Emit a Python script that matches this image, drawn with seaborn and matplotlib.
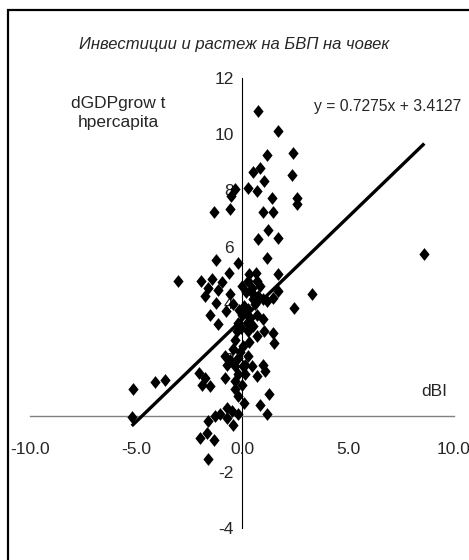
import numpy as np
import pandas as pd
from matplotlib import pyplot as plt
from matplotlib.path import Path
from matplotlib.patches import Rectangle
import seaborn as sns

# investment change (dBI) vs GDP per capita growth change
dbi = [0.77, 1.68, 1.19, 2.39, 0.85, 0.50, 1.05, 2.37, 0.30, 0.72, -0.33, -0.52,
       1.43, 2.58, 2.58, -1.31, -0.57, 1.01, 1.48, 1.24, 0.77, 1.68, 1.19, -1.23,
       -0.17, -0.60, 1.68, -3.03, -1.93, -1.43, -0.96, -1.59, -1.12, -1.75, -0.57,
       -1.23, -0.41,
       0.35, 0.66, 0.30, 0.69, 0.46, 0.85, 0.53, 0.77, 1.01, 1.71, 1.48, 3.32, 2.45,
       -0.75, -1.51, -1.12, -0.02, 0.30, 0.53, 1.16, 0.69, 1.01, -0.17, 0.22, 0.53,
       -0.25, 0.30, 0.69, 1.04, 1.48, 1.51, -0.33, 0.06, -0.41, -0.80, -0.57, -0.17,
       -0.72, -0.33, 0.14, 0.46, 1.01, 1.08, -0.80, -0.17, 0.14, 0.69, -0.33, -0.02,
       -0.33, -2.03, -1.75, -1.51, -1.90, 1.29, 0.09, 0.85, -0.72, -0.49, -1.04,
       -0.17, -1.27, 1.16, -0.72, -0.41, -1.59, -1.98, -1.67, -1.32, -1.59, -5.13,
       -4.10, -3.63, -5.20, 8.60,
       0.10, 0.40, 0.20, -0.05, 0.60, 0.35, -0.10, 0.05, -0.20, 0.30, 0.00, 0.25, -0.15]
dgdp = [10.83, 10.12, 9.26, 9.35, 8.81, 8.66, 8.34, 8.54, 8.10, 7.98, 8.07, 7.80,
        7.74, 7.74, 7.53, 7.24, 7.33, 7.25, 7.25, 6.59, 6.26, 6.32, 5.61, 5.52,
        5.43, 5.08, 5.02, 4.78, 4.80, 4.84, 4.75, 4.54, 4.48, 4.25, 4.31,
        4.01, 3.95,
        5.02, 5.08, 4.78, 4.78, 4.54, 4.60, 4.31, 4.25, 4.13, 4.42, 4.19, 4.31, 3.83,
        3.71, 3.59, 3.24, 3.59, 3.77, 4.13, 4.07, 3.59, 3.42, 3.30, 3.30, 3.18,
        3.00, 3.00, 2.82, 3.00, 2.94, 2.59, 2.70, 2.47, 2.35, 2.11, 1.99, 2.05,
        1.81, 1.75, 1.81, 1.75, 1.81, 1.58, 1.35, 1.46, 1.46, 1.40, 1.22, 1.10,
        0.93, 1.52, 1.34, 1.04, 1.10, 0.78, 0.45, 0.39, 0.27, 0.15, 0.04,
        0.04, -0.02, 0.04, -0.08, -0.32, -0.20, -0.79, -0.62, -0.88, -1.54, 0.93,
        1.19, 1.28, -0.05, 5.73,
        3.90, 3.45, 4.40, 3.10, 3.95, 2.60, 2.25, 1.75, 0.70, 2.10, 4.60, 3.60, 3.75]

slope = 0.7275
intercept = 3.4127
x_ticks = [-10, -5, 0, 5, 10]
y_ticks = [-4, -2, 0, 2, 4, 6, 8, 10, 12]

sns.set_style("white")
plt.rcParams["font.family"] = ["Liberation Sans", "DejaVu Sans"]
fs = 12.5

df = pd.DataFrame({"dBI": dbi, "dGDP": dgdp})

# Excel-like diamond, a little taller than wide
diamond = Path([(0, 1), (0.8, 0), (0, -1), (-0.8, 0), (0, 1)],
               [Path.MOVETO, Path.LINETO, Path.LINETO, Path.LINETO, Path.CLOSEPOLY])

fig = plt.figure(figsize=(4.69, 5.6), dpi=100)
ax = fig.add_axes([30 / 469, 32 / 560, 424 / 469, 450 / 560])

sns.scatterplot(data=df, x="dBI", y="dGDP", marker=diamond, color="black",
                s=85, linewidth=0, ax=ax, zorder=3, legend=False)

xl = np.array([df["dBI"].min(), df["dBI"].max()])
ax.plot(xl, slope * xl + intercept, color="black", lw=2.4, zorder=4,
        solid_capstyle="butt")

ax.set_xlim(-10, 10)
ax.set_ylim(-4, 12)
ax.spines["left"].set_position(("data", 0))
ax.spines["bottom"].set_position(("data", 0))
ax.spines["top"].set_visible(False)
ax.spines["right"].set_visible(False)
ax.spines["bottom"].set_color("#808080")
ax.spines["left"].set_color("black")
ax.spines["left"].set_linewidth(0.8)
ax.spines["bottom"].set_linewidth(1.0)

ax.set_xticks(x_ticks)
ax.set_xticklabels(["%.1f" % v for v in x_ticks])
ax.set_yticks(y_ticks)
ax.set_yticklabels(["" if v == 0 else "%d" % v for v in y_ticks])
ax.tick_params(axis="x", direction="out", length=3, width=1, color="black",
               pad=16, labelsize=fs)
ax.tick_params(axis="y", direction="out", length=3, width=0.8, color="black",
               pad=3, labelsize=fs)
ax.set_xlabel("")
ax.set_ylabel("")

fig.text(234 / 469, 1 - 45 / 560, "Инвестиции и растеж на БВП на човек",
         ha="center", va="center", fontsize=12, style="italic")
fig.text(118 / 469, 1 - 113 / 560, "dGDPgrow t\nhpercapita", ha="center",
         va="center", fontsize=fs, linespacing=1.3)
fig.text(461 / 469, 1 - 106 / 560, "y = 0.7275x + 3.4127", ha="right",
         va="center", fontsize=11.3)
fig.text(434 / 469, 1 - 391 / 560, "dBI", ha="center", va="center", fontsize=fs)

fig.patches.append(Rectangle((8 / 469, -0.1), 1.2, 1.1 - 10 / 560, fill=False,
                             edgecolor="black", lw=1.6, transform=fig.transFigure,
                             clip_on=False))

plt.savefig("out.png", dpi=100)
